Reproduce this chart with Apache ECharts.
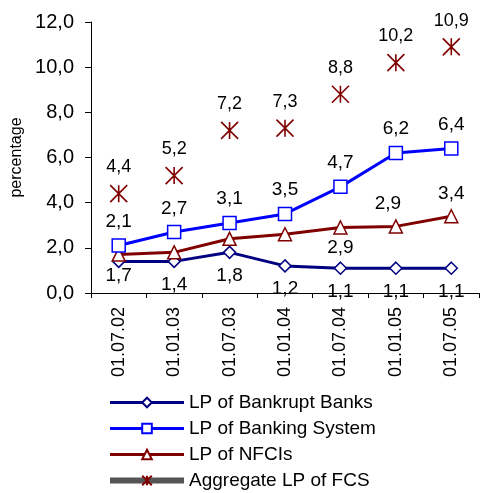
<!DOCTYPE html>
<html>
<head>
<meta charset="utf-8">
<script src="https://cdn.jsdelivr.net/npm/echarts@6/dist/echarts.min.js"></script>
<style>
  html, body { margin: 0; padding: 0; background: #fff; }
  #chart { width: 480px; height: 493px; }
</style>
</head>
<body>
<div id="chart"></div>
<script>
var dates = ['01.07.02', '01.01.03', '01.07.03', '01.01.04', '01.07.04', '01.01.05', '01.07.05'];
var bankruptBanks = [1.4, 1.4, 1.8, 1.2, 1.1, 1.1, 1.1];
var bankingSystem = [2.1, 2.7, 3.1, 3.5, 4.7, 6.2, 6.4];
var nfcis = [1.7, 1.8, 2.4, 2.6, 2.9, 2.95, 3.4];
var aggregateFcs = [4.4, 5.2, 7.2, 7.3, 8.8, 10.2, 10.9];
var yTicks = [0, 2, 4, 6, 8, 10, 12];

var font = 'Liberation Sans';
function fmt(v) { return (Math.floor(v * 10 + 1e-6) / 10).toFixed(1).replace('.', ','); }

var chart = echarts.init(document.getElementById('chart'));

// NFCI labels are only drawn at some points in the original
var nfciLabels = {0: 'bottom', 4: 'bottom', 5: 'top', 6: 'top'};
var nfciData = nfcis.map(function (v, i) {
    var pos = nfciLabels[i];
    return {
        value: v,
        label: pos ? { show: true, position: pos, distance: pos === 'bottom' ? 4 : 6, offset: i === 5 ? [-8, 0] : [0, 0] } : { show: false }
    };
});

var option = {
    animation: false,
    textStyle: { fontFamily: font },
    grid: { left: 91, right: 1, top: 22, bottom: 200 },
    legend: {
        orient: 'vertical',
        left: 107,
        top: 393,
        padding: 0,
        itemWidth: 74,
        itemHeight: 12,
        itemGap: 7,
        textStyle: { fontFamily: font, fontSize: 19, color: '#000' },
        data: [
            { name: 'LP of Bankrupt Banks', lineStyle: { width: 3 } },
            { name: 'LP of Banking System', lineStyle: { width: 3 } },
            { name: 'LP of NFCIs', lineStyle: { width: 3 } },
            { name: 'Aggregate LP of FCS', lineStyle: { color: '#555', width: 6, opacity: 1 } }
        ]
    },
    xAxis: {
        type: 'category',
        data: dates,
        boundaryGap: true,
        axisLine: { lineStyle: { color: '#000', width: 1 } },
        axisTick: { show: true, length: 5, lineStyle: { color: '#000' } },
        axisLabel: { rotate: 90, fontSize: 18, color: '#000', margin: 14 }
    },
    yAxis: {
        type: 'value',
        min: yTicks[0],
        max: yTicks[yTicks.length - 1],
        interval: 2,
        name: 'percentage',
        nameLocation: 'middle',
        nameGap: 58,
        nameTextStyle: { fontSize: 16, color: '#000' },
        axisLine: { show: true, lineStyle: { color: '#000', width: 1 } },
        axisTick: { show: true, length: 6, lineStyle: { color: '#000' } },
        splitLine: { show: false },
        axisLabel: { fontSize: 20, color: '#000', margin: 17, formatter: function (v) { return v.toFixed(1).replace('.', ','); } }
    },
    series: [
        {
            name: 'LP of Bankrupt Banks',
            type: 'line',
            data: bankruptBanks,
            symbol: 'diamond',
            symbolSize: 12,
            lineStyle: { color: '#000080', width: 3 },
            itemStyle: { color: '#fff', borderColor: '#000080', borderWidth: 1.5 },
            label: {
                show: true, position: 'bottom', distance: 7,
                fontSize: 19, color: '#000',
                formatter: function (p) { return p.dataIndex === 0 ? '' : fmt(p.value); }
            },
            z: 3
        },
        {
            name: 'LP of Banking System',
            type: 'line',
            data: bankingSystem,
            symbol: 'rect',
            symbolSize: 13,
            lineStyle: { color: '#0000ff', width: 3 },
            itemStyle: { color: '#fff', borderColor: '#0000ff', borderWidth: 1.5 },
            label: {
                show: true, position: 'top', distance: 7,
                fontSize: 19, color: '#000',
                formatter: function (p) { return fmt(p.value); }
            },
            z: 4
        },
        {
            name: 'LP of NFCIs',
            type: 'line',
            data: nfciData,
            symbol: 'triangle',
            symbolSize: 13,
            lineStyle: { color: '#800000', width: 3 },
            itemStyle: { color: '#fff', borderColor: '#800000', borderWidth: 1.5 },
            label: {
                fontSize: 19, color: '#000',
                formatter: function (p) { return fmt(p.value); }
            },
            z: 3
        },
        {
            name: 'Aggregate LP of FCS',
            type: 'line',
            data: aggregateFcs,
            symbol: 'path://M0,0 L10,10 M10,0 L0,10 M5,0 L5,10',
            symbolSize: 17,
            lineStyle: { opacity: 0 },
            itemStyle: { color: 'rgba(0,0,0,0)', borderColor: '#800000', borderWidth: 1.6 },
            label: {
                show: true, position: 'top', distance: 8,
                fontSize: 18, color: '#000',
                formatter: function (p) { return fmt(p.value); }
            },
            z: 2
        }
    ]
};

option && chart.setOption(option);
</script>
</body>
</html>
